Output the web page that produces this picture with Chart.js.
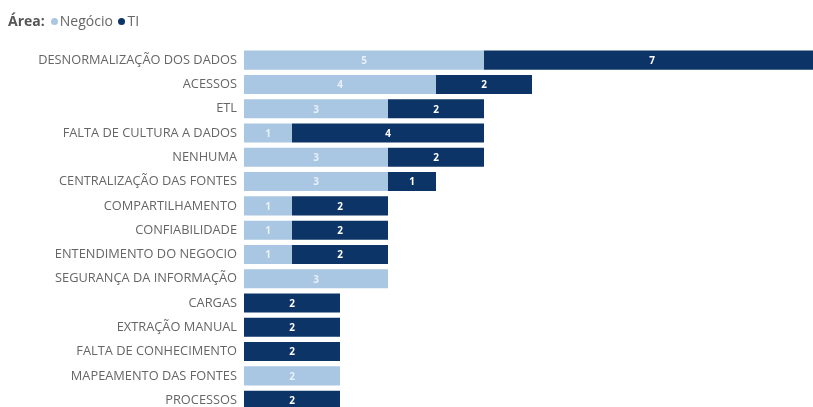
<!DOCTYPE html>
<html><head><meta charset="utf-8">
<script src="https://cdn.jsdelivr.net/npm/chart.js@4.4.0/dist/chart.umd.min.js"></script>
<style>
html,body{margin:0;padding:0;background:#fff;overflow:hidden;width:813px;height:407px;}
#legend{position:absolute;left:8px;top:11px;font-family:"Open Sans",sans-serif;font-size:14px;color:#666;white-space:nowrap;}
#legend b{color:#555;font-weight:700;margin-right:4px;}
.dot{display:inline-block;width:7px;height:7px;border-radius:50%;margin:0 2px 2px 2px;vertical-align:middle;}
#wrap{position:absolute;left:0;top:0;width:820px;height:427px;}
</style></head>
<body>
<div id="wrap"><canvas id="c"></canvas></div>
<div id="legend"><b>Área:</b><span class="dot" style="background:#A9C6E2"></span>Negócio <span class="dot" style="background:#0C3466"></span>TI</div>
<script>
const categories = ["DESNORMALIZAÇÃO DOS DADOS","ACESSOS","ETL","FALTA DE CULTURA A DADOS","NENHUMA","CENTRALIZAÇÃO DAS FONTES","COMPARTILHAMENTO","CONFIABILIDADE","ENTENDIMENTO DO NEGOCIO","SEGURANÇA DA INFORMAÇÃO","CARGAS","EXTRAÇÃO MANUAL","FALTA DE CONHECIMENTO","MAPEAMENTO DAS FONTES","PROCESSOS"];
const negocio = [5,4,3,1,3,3,1,1,1,3,null,null,null,2,null];
const ti = [7,2,2,4,2,1,2,2,2,null,2,2,2,null,2];

const labelPlugin = {
  id:'barLabels',
  afterDatasetsDraw(chart){
    const ctx = chart.ctx;
    ctx.save();
    ctx.font = 'bold 10px "Open Sans", sans-serif';
    ctx.textAlign = 'center';
    ctx.textBaseline = 'middle';
    chart.data.datasets.forEach((ds,i)=>{
      const meta = chart.getDatasetMeta(i);
      meta.data.forEach((el,j)=>{
        const v = ds.data[j];
        if(v==null || v===0) return;
        const cx = (el.x + el.base)/2;
        ctx.fillStyle = i===0 ? 'rgba(255,255,255,0.75)' : '#ffffff';
        ctx.fillText(String(v), cx, el.y+1);
      });
    });
    ctx.restore();
  }
};

new Chart(document.getElementById('c'),{
  type:'bar',
  data:{labels:categories,datasets:[
    {label:'Negócio',data:negocio,backgroundColor:'#A9C6E2',categoryPercentage:0.8,barPercentage:0.98},
    {label:'TI',data:ti,backgroundColor:'#0C3466',categoryPercentage:0.8,barPercentage:0.98}
  ]},
  options:{
    indexAxis:'y',responsive:true,maintainAspectRatio:false,animation:false,
    layout:{padding:{top:48,left:0,right:0,bottom:0}},
    plugins:{legend:{display:false},tooltip:{enabled:false}},
    scales:{
      x:{stacked:true,display:false,min:0,max:12},
      y:{stacked:true,grid:{display:false,drawTicks:false},border:{display:false},
        afterFit(s){s.width=244;},
        ticks:{padding:7,color:'#666',font:{family:'"Open Sans", sans-serif',size:12.8}}}
    }
  },
  plugins:[labelPlugin]
});
</script>
</body></html>
